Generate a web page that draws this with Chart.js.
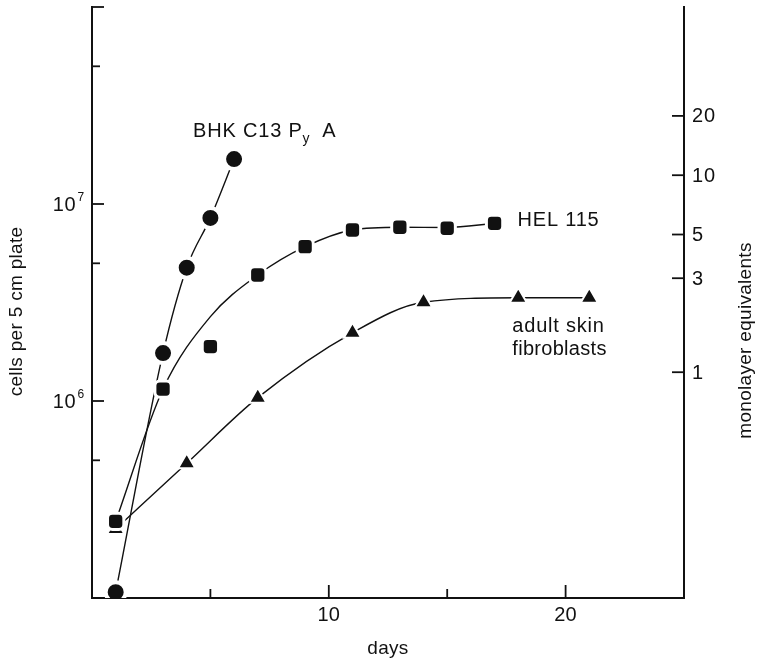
<!DOCTYPE html>
<html>
<head>
<meta charset="utf-8">
<script src="https://cdn.jsdelivr.net/npm/chart.js@4.4.1/dist/chart.umd.min.js"></script>
<style>
  html, body { margin: 0; padding: 0; background: #fff; }
  #wrap { width: 761px; height: 661px; }
</style>
</head>
<body>
<div id="wrap"><canvas id="growth" width="761" height="661"></canvas></div>
<script>
// Cell counts per 5 cm plate against days in culture
const bhkDays = [1, 3, 4, 5, 6];
const bhkCells = [1.07e5, 1.75e6, 4.75e6, 8.5e6, 1.69e7];

const helDays = [1, 3, 5, 7, 9, 11, 13, 15, 17];
const helCells = [2.45e5, 1.15e6, 1.89e6, 4.36e6, 6.07e6, 7.38e6, 7.62e6, 7.53e6, 7.98e6];
// smooth curve drawn through the HEL 115 counts (runs above the day-5 count)
const helCurveDays = [1, 3, 5, 7, 9, 11, 13, 15, 17];
const helCurveCells = [2.45e5, 1.15e6, 2.68e6, 4.36e6, 6.07e6, 7.38e6, 7.62e6, 7.6e6, 7.98e6];

const skinDays = [1, 4, 7, 11, 14, 18, 21];
const skinCells = [2.24e5, 4.83e5, 1.04e6, 2.22e6, 3.17e6, 3.34e6, 3.34e6];

// cells in one confluent monolayer on a 5 cm plate
const cellsPerMonolayer = 1.4e6;

// axis ticks
const dayTicks = [5, 10, 15, 20];
const dayLabels = ['', '10', '', '20'];
const cellTicks = [1e5, 5e5, 1e6, 5e6, 1e7, 5e7, 1e8];
const cellLabelValues = [1e6, 1e7];
const cellLabelExponents = ['6', '7'];
const monolayerTicks = [1, 3, 5, 10, 20];

const FONT = "'Liberation Sans', Arial, Helvetica, sans-serif";
const INK = '#111';
const SIZE = 20;
const TITLE_SIZE = 19;
Chart.defaults.font.family = FONT;
Chart.defaults.color = INK;

const pts = (xs, ys) => xs.map((x, i) => ({ x, y: ys[i] }));

const curve = (xs, ys) => ({
  type: 'line', data: pts(xs, ys), order: 3,
  borderColor: INK, borderWidth: 1.4, pointRadius: 0,
  cubicInterpolationMode: 'monotone', fill: false
});
const markers = (xs, ys, style, r, gap) => ({
  type: 'line', data: pts(xs, ys), order: 1, showLine: false,
  pointStyle: style, pointRadius: r, pointBackgroundColor: INK,
  pointBorderColor: '#fff', pointBorderWidth: gap
});

// slightly open letter spacing for the library-drawn text
const spacing = {
  id: 'spacing',
  beforeDraw(chart) { chart.ctx.letterSpacing = '0.3px'; }
};

// inward tick marks and the y-axis labels on both sides
const axisMarks = {
  id: 'axisMarks',
  afterDatasetsDraw(chart) {
    const { ctx, chartArea: a, scales } = chart;
    ctx.save();
    ctx.strokeStyle = INK;
    ctx.lineWidth = 1.8;
    const seg = (x1, y1, x2, y2) => { ctx.beginPath(); ctx.moveTo(x1, y1); ctx.lineTo(x2, y2); ctx.stroke(); };
    cellTicks.forEach(v => {
      const y = scales.y.getPixelForValue(v);
      const major = Math.abs(Math.log10(v) % 1) < 1e-9;
      seg(a.left, y, a.left + (major ? 12 : 8), y);
    });
    monolayerTicks.forEach(v => {
      const y = scales.y2.getPixelForValue(v);
      seg(a.right, y, a.right - 12, y);
    });
    dayTicks.forEach(v => {
      const x = scales.x.getPixelForValue(v);
      seg(x, a.bottom, x, a.bottom - (v % 10 === 0 ? 13 : 9));
    });

    ctx.fillStyle = INK;
    ctx.letterSpacing = '0.8px';
    // powers of ten on the cell-count axis
    cellLabelValues.forEach((v, i) => {
      const y = scales.y.getPixelForValue(v);
      ctx.font = '12px ' + FONT;
      const supW = ctx.measureText(cellLabelExponents[i]).width;
      const right = a.left - 7;
      ctx.textAlign = 'right';
      ctx.textBaseline = 'alphabetic';
      ctx.fillText(cellLabelExponents[i], right, y - 3);
      ctx.font = SIZE + 'px ' + FONT;
      ctx.fillText('10', right - supW - 1, y + 7);
    });
    // monolayer equivalents
    ctx.font = SIZE + 'px ' + FONT;
    ctx.textAlign = 'left';
    ctx.textBaseline = 'middle';
    monolayerTicks.forEach(v => {
      ctx.fillText(String(v), a.right + 8, scales.y2.getPixelForValue(v) + 1);
    });
    ctx.restore();
  }
};

// series names beside the curves and the two vertical axis titles
const seriesNames = {
  id: 'seriesNames',
  afterDraw(chart) {
    const { ctx, scales } = chart;
    const px = (d, c) => [scales.x.getPixelForValue(d), scales.y.getPixelForValue(c)];
    ctx.save();
    ctx.fillStyle = INK;
    ctx.letterSpacing = '0.8px';
    ctx.textBaseline = 'alphabetic';
    ctx.textAlign = 'left';
    const big = SIZE + 'px ' + FONT, small = '14px ' + FONT;

    // BHK C13 Py A
    const [bx, by] = px(bhkDays[bhkDays.length - 1], bhkCells[bhkCells.length - 1]);
    let x = bx - 41, y = by - 22;
    ctx.font = big;
    ctx.fillText('BHK C13 P', x, y);
    x += ctx.measureText('BHK C13 P').width;
    ctx.font = small;
    ctx.fillText('y', x, y + 6);
    x += ctx.measureText('y').width + 12;
    ctx.font = big;
    ctx.fillText('A', x, y);

    // HEL 115
    const [hx, hy] = px(helDays[helDays.length - 1], helCells[helCells.length - 1]);
    ctx.textBaseline = 'middle';
    ctx.fillText('HEL 115', hx + 23, hy - 3);

    // adult skin fibroblasts
    const [sx, sy] = px(skinDays[skinDays.length - 1], skinCells[skinCells.length - 1]);
    ctx.textBaseline = 'alphabetic';
    ctx.fillText('adult skin', sx - 77, sy + 34);
    ctx.letterSpacing = '0.3px';
    ctx.fillText('fibroblasts', sx - 77, sy + 57);

    // vertical axis titles, both read bottom to top
    ctx.font = TITLE_SIZE + 'px ' + FONT;
    ctx.textAlign = 'center';
    ctx.textBaseline = 'middle';
    const mid = (chart.chartArea.top + chart.chartArea.bottom) / 2;
    const vertical = (text, cx, cy) => {
      ctx.save();
      ctx.translate(cx, cy);
      ctx.rotate(-Math.PI / 2);
      ctx.fillText(text, 0, 0);
      ctx.restore();
    };
    vertical('cells per 5 cm plate', 17, mid + 9);
    vertical('monolayer equivalents', 746, mid + 38);
    ctx.restore();
  }
};

new Chart(document.getElementById('growth'), {
  type: 'line',
  data: {
    datasets: [
      curve(bhkDays, bhkCells),
      curve(helCurveDays, helCurveCells),
      curve(skinDays, skinCells),
      markers(bhkDays, bhkCells, 'circle', 10, 4),
      markers(helDays, helCells, 'rectRounded', 9.5, 3),
      markers(skinDays, skinCells, 'triangle', 10, 2)
    ]
  },
  options: {
    responsive: false,
    animation: false,
    events: [],
    layout: { autoPadding: false, padding: { top: 7, left: 0, right: 0, bottom: 0 } },
    plugins: { legend: { display: false }, tooltip: { enabled: false } },
    scales: {
      x: {
        type: 'linear', min: 0, max: 25,
        afterBuildTicks: s => { s.ticks = dayTicks.map(v => ({ value: v })); },
        ticks: {
          autoSkip: false, maxRotation: 0, padding: 5,
          font: { size: SIZE },
          callback: v => dayLabels[dayTicks.indexOf(v)] ?? ''
        },
        grid: { display: false, drawTicks: false },
        border: { display: true, color: INK, width: 2 },
        title: { display: true, text: 'days', font: { size: TITLE_SIZE }, padding: { top: 0, bottom: 1 } },
        afterFit: s => { s.height = 63; }
      },
      y: {
        type: 'logarithmic', position: 'left', min: 1e5, max: 1e8,
        afterBuildTicks: s => { s.ticks = cellTicks.map(v => ({ value: v })); },
        ticks: { display: false },
        grid: { display: false, drawTicks: false },
        border: { display: true, color: INK, width: 2 },
        title: { display: false },
        afterFit: s => { s.width = 92; }
      },
      y2: {
        type: 'logarithmic', position: 'right',
        min: 1e5 / cellsPerMonolayer, max: 1e8 / cellsPerMonolayer,
        afterBuildTicks: s => { s.ticks = monolayerTicks.map(v => ({ value: v })); },
        ticks: { display: false },
        grid: { display: false, drawTicks: false },
        border: { display: true, color: INK, width: 2 },
        title: { display: false },
        afterFit: s => { s.width = 77; }
      }
    }
  },
  plugins: [spacing, axisMarks, seriesNames]
});
</script>
</body>
</html>
